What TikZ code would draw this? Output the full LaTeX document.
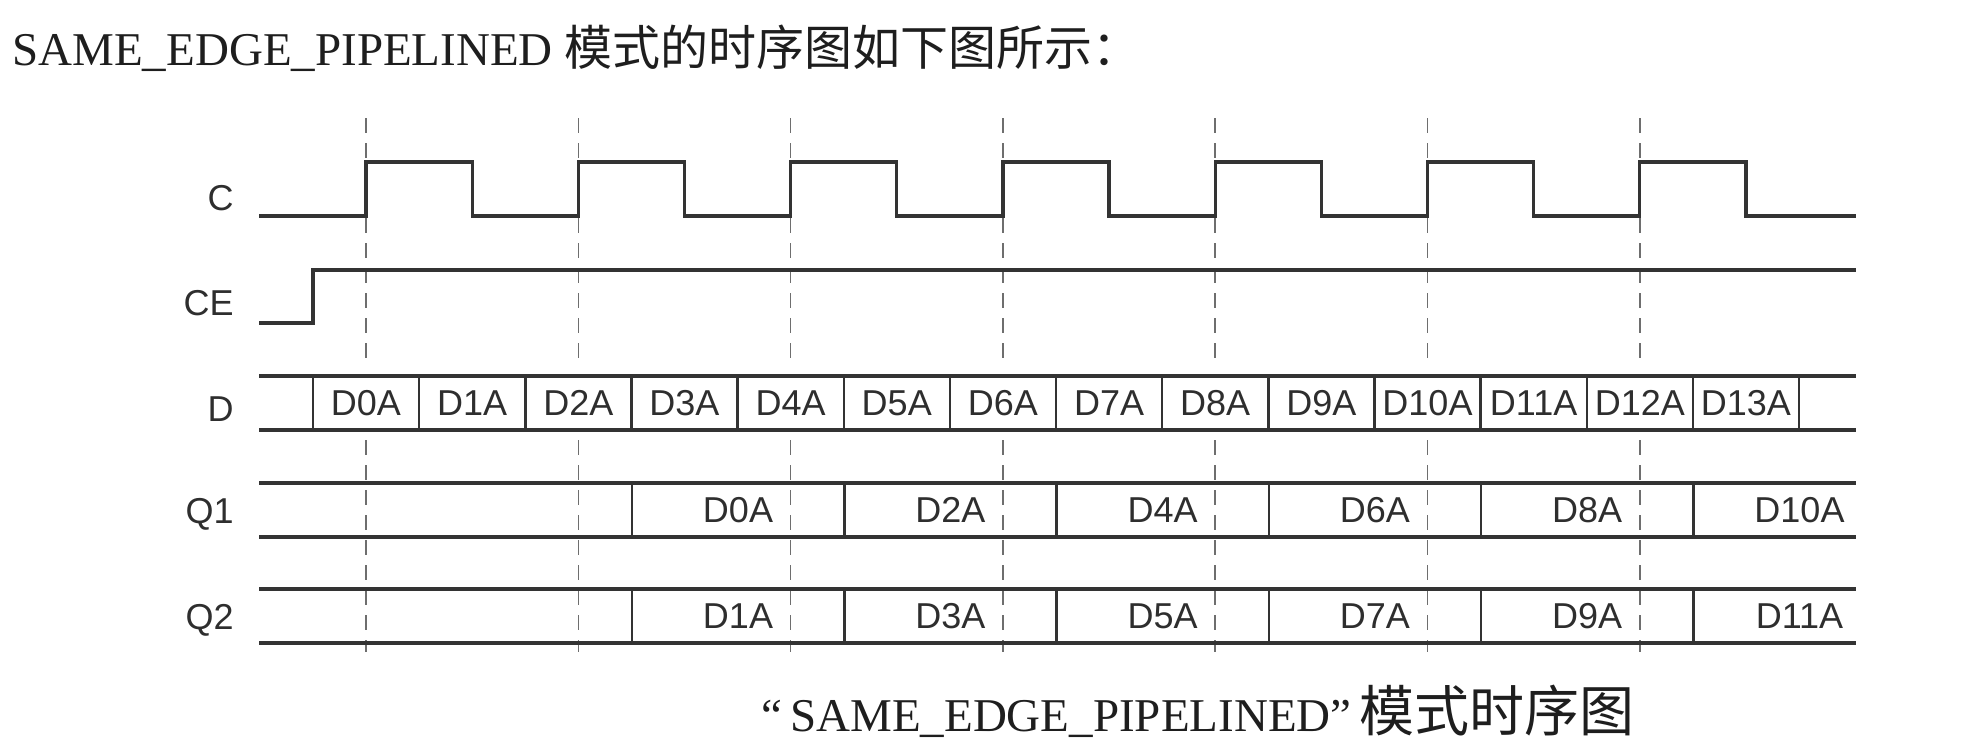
\documentclass[tikz,border=0pt]{standalone}
\usepackage{fontspec}
\setmainfont{Liberation Serif}
\newfontfamily\sigfont{Liberation Sans}
\newfontfamily\cjkfont{Noto Sans CJK SC}
\usepackage{xcolor}
\usetikzlibrary{positioning, calc}

\definecolor{waveclr}{HTML}{333333}
\definecolor{gridclr}{HTML}{6E6E6E}
\definecolor{labelclr}{HTML}{2E2E2E}
\definecolor{headclr}{HTML}{1E1E1E}

\begin{document}
\begin{tikzpicture}[
  x=0.5pt, y=-0.5pt,
  % Line styles
  wave/.style={line width=1.6pt, draw=waveclr, line join=miter},
  sep/.style={line width=1.2pt, draw=waveclr},
  tick/.style={line width=0.8pt, draw=gridclr, dash pattern=on 7.5pt off 5pt},
  % Text styles
  signame/.style={anchor=east, inner sep=0pt, text=labelclr,
                  font=\sigfont\fontsize{18}{18}\selectfont},
  busval/.style={inner sep=0pt, text=labelclr,
                 font=\sigfont\fontsize{18}{18}\selectfont},
  heading/.style={anchor=base west, inner sep=0pt, text=headclr,
                  font=\fontsize{23.5}{23.5}\selectfont},
]
\useasboundingbox (0,0) rectangle (1961,745);

% ---- TITLE ----
\node[heading] (title) at (12,65)
  {SAME\_EDGE\_PIPELINED {\cjkfont\fontsize{24}{24}\selectfont 模式的时序图如下图所示：}};

% ---- CLOCK EDGES (dashed) ----
\foreach \k in {0,...,6} {
  \draw[tick] ({366+212.3*\k},118) -- ({366+212.3*\k},366);
  \draw[tick] ({366+212.3*\k},440) -- ({366+212.3*\k},652);
}

% ---- SIGNAL NAMES ----
\node[signame] (nC)  at (234,198) {C};
\node[signame] (nCE) at (234,303) {CE};
\node[signame] (nD)  at (234,409) {D};
\node[signame] (nQ1) at (234,514) {Q1};
\node[signame] (nQ2) at (234,620) {Q2};

% ---- C ----
\draw[wave] (259,216)
  \foreach \k in {0,...,6} {
    -- ({366+212.3*\k},216) -- ({366+212.3*\k},162)
    -- ({472.15+212.3*\k},162) -- ({472.15+212.3*\k},216)
  } -- (1856,216);

% ---- CE ----
\draw[wave] (259,323) -- (313,323) -- (313,270) -- (1856,270);

% ---- D (bus) ----
\draw[wave] (259,376) -- (1856,376);
\draw[wave] (259,430) -- (1856,430);
\foreach \j in {0,...,14}
  \draw[sep] ({313+106.15*\j},376) -- ({313+106.15*\j},430);
\foreach \j in {0,...,13}
  \node[busval] (d\j) at ({366+106.15*\j},403) {D\j A};

% ---- Q1 / Q2 ----
\foreach \y in {483,537,589,643}
  \draw[wave] (259,\y) -- (1856,\y);
\foreach \m in {0,...,5} {
  \draw[sep] ({632+212.3*\m},483) -- ({632+212.3*\m},537);
  \draw[sep] ({632+212.3*\m},589) -- ({632+212.3*\m},643);
}
\foreach \m/\qa/\qb in {0/D0A/D1A, 1/D2A/D3A, 2/D4A/D5A,
                        3/D6A/D7A, 4/D8A/D9A, 5/D10A/D11A} {
  \node[busval] (qa\m) at ({738+212.3*\m},510) {\qa};
  \node[busval] (qb\m) at ({738+212.3*\m},616) {\qb};
}

% ---- CAPTION ----
\node[heading, anchor=base] (caption) at (1198,731)
  {“\,SAME\_EDGE\_PIPELINED”\,{\cjkfont\fontsize{27.5}{27.5}\selectfont 模式时序图}};

\end{tikzpicture}
\end{document}
